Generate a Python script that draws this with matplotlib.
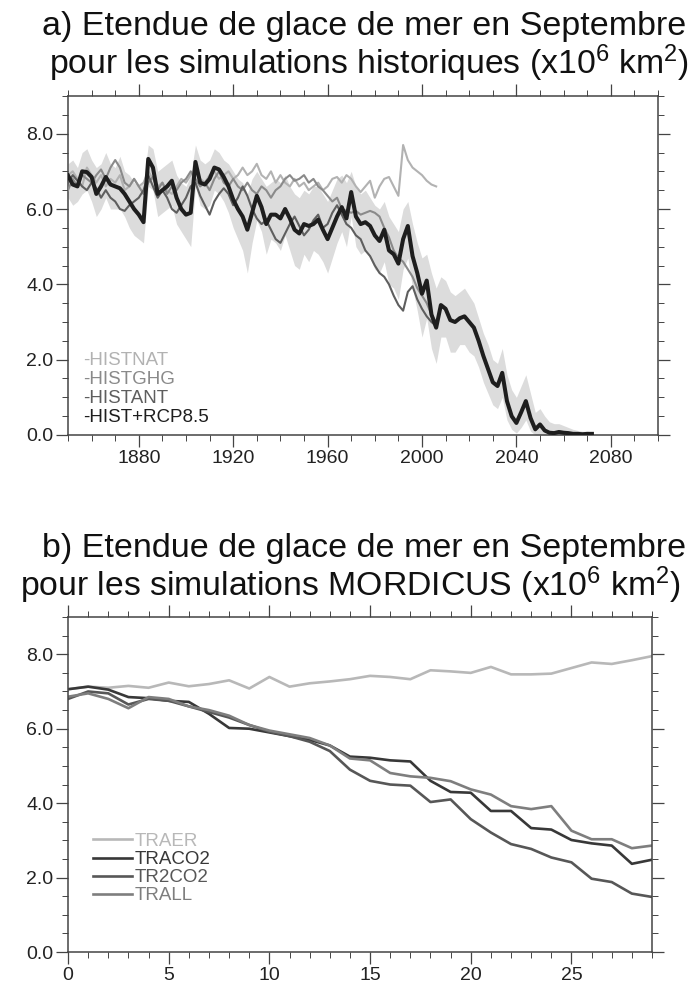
import numpy as np
import matplotlib
matplotlib.use('Agg')
from matplotlib import pyplot as plt
from matplotlib.ticker import MultipleLocator, FormatStrFormatter

plt.rcParams['font.family'] = ['Liberation Sans', 'DejaVu Sans']
plt.rcParams['mathtext.fontset'] = 'custom'
plt.rcParams['mathtext.rm'] = 'Liberation Sans'
plt.rcParams['mathtext.it'] = 'Liberation Sans:italic'

# ---- panel a : historical runs (x10^6 km2), every 2 years
years_rcp = np.arange(1850, 2074, 2)
hist_rcp85 = [
    6.89, 6.65, 6.6, 7.0, 6.98, 6.85, 6.4, 6.6, 6.85, 6.65,
    6.6, 6.55, 6.4, 6.2, 6.0, 5.85, 5.65, 7.33, 7.1, 6.4,
    6.5, 6.6, 6.75, 6.3, 6.0, 5.85, 5.9, 7.25, 6.7, 6.65,
    6.8, 7.1, 7.05, 6.85, 6.6, 6.25, 6.0, 5.8, 5.45, 5.9,
    6.35, 6.05, 5.6, 5.85, 5.85, 5.75, 6.0, 5.75, 5.45, 5.35,
    5.6, 5.55, 5.6, 5.72, 5.45, 5.2, 5.5, 5.8, 6.05, 5.75,
    6.45, 5.8, 5.6, 5.65, 5.55, 5.3, 5.15, 5.45, 4.9, 4.8,
    4.55, 5.2, 5.55, 4.75, 4.3, 3.75, 4.1, 3.2, 2.85, 3.45,
    3.35, 3.05, 3.0, 3.1, 3.15, 3.0, 2.85, 2.5, 2.1, 1.75,
    1.4, 1.3, 1.65, 0.9, 0.5, 0.32, 0.6, 0.9, 0.45, 0.15,
    0.28, 0.12, 0.06, 0.05, 0.08, 0.06, 0.05, 0.03, 0.03, 0.02,
    0.03, 0.03]
spread_hi = [
    7.2, 7.3, 7.1, 7.5, 7.6, 7.3, 7.1, 7.2, 7.5, 7.2,
    7.1, 7.4, 7.0, 6.9, 6.7, 6.6, 6.7, 7.7, 7.6, 7.0,
    7.1, 7.2, 7.3, 6.9, 6.7, 6.6, 6.9, 7.7, 7.3, 7.2,
    7.3, 7.6, 7.5, 7.3, 7.2, 7.0, 6.8, 6.7, 6.4, 6.8,
    7.0, 6.8, 6.6, 6.7, 6.8, 6.7, 6.9, 6.6, 6.4, 6.3,
    6.5, 6.4, 6.6, 6.6, 6.4, 6.2, 6.5, 6.8, 6.9, 6.7,
    7.0, 6.6, 6.4, 6.5, 6.3, 6.1, 6.0, 6.2, 5.8, 5.6,
    5.4, 6.0, 6.2, 5.6, 5.1, 4.7, 4.8, 4.3, 3.9, 4.2,
    4.1, 3.8, 3.7, 3.8, 3.9, 3.7, 3.5, 3.1, 2.7, 2.4,
    2.0, 1.9, 2.3, 1.6, 1.2, 1.0, 1.3, 1.6, 1.1, 0.6,
    0.7, 0.5, 0.35, 0.3, 0.3, 0.25, 0.2, 0.15, 0.12, 0.1,
    0.1, 0.08]
spread_lo = [
    6.3, 6.1, 6.2, 6.4, 6.5, 6.2, 5.8, 6.0, 6.3, 6.0,
    6.0, 6.0, 5.8, 5.5, 5.3, 5.2, 5.1, 6.6, 6.5, 5.8,
    5.9, 6.0, 6.1, 5.6, 5.4, 5.2, 5.0, 6.6, 6.1, 6.0,
    6.1, 6.5, 6.4, 6.2, 5.9, 5.5, 5.2, 4.9, 4.3, 5.1,
    5.7, 5.4, 4.8, 5.2, 5.1, 4.9, 5.3, 4.9, 4.5, 4.4,
    4.8, 4.6, 4.9, 4.8, 4.6, 4.3, 4.7, 5.1, 5.4, 5.0,
    5.8, 5.0, 4.8, 4.9, 4.7, 4.4, 4.3, 4.6, 4.0, 3.9,
    3.6, 4.4, 4.7, 3.9, 3.3, 2.6, 3.1, 2.3, 1.9, 2.6,
    2.6, 2.2, 2.2, 2.4, 2.4, 2.2, 2.1, 1.8, 1.4, 1.1,
    0.8, 0.7, 1.0, 0.4, 0.15, 0.05, 0.2, 0.4, 0.1, 0.0,
    0.0, 0.0, 0.0, 0.0, 0.0, 0.0, 0.0, 0.0, 0.0, 0.0,
    0.0, 0.0]

years_hist = np.arange(1850, 2008, 2)
histnat = [
    6.9, 7.0, 6.8, 6.6, 7.1, 6.9, 6.7, 6.9, 6.6, 6.8,
    6.7, 6.9, 6.5, 6.6, 6.8, 6.6, 6.7, 7.0, 6.8, 6.6,
    6.7, 6.5, 6.4, 6.6, 6.8, 6.7, 6.9, 7.1, 6.8, 6.7,
    6.9, 7.0, 6.8, 6.9, 7.0, 6.8, 6.9, 7.1, 6.9, 7.0,
    7.2, 6.9, 6.8, 7.0, 6.7, 6.9, 6.7, 6.6, 6.8, 6.6,
    6.7, 6.5, 6.6, 6.7, 6.5, 6.6, 6.8, 6.85, 6.7, 6.9,
    6.8, 6.6, 6.45, 6.6, 6.75, 6.3, 6.6, 6.8, 6.85, 6.6,
    6.35, 7.7, 7.3, 7.1, 7.0, 6.9, 6.75, 6.65, 6.6]
histghg = [
    6.5, 6.8, 6.6, 6.9, 6.8, 6.7, 6.9, 7.05, 6.8, 7.1,
    7.3, 7.1, 6.7, 6.6, 6.8, 6.6, 6.4, 6.7, 6.85, 6.5,
    6.7, 6.4, 6.6, 6.5, 6.7, 6.8, 7.0, 6.8, 6.6, 6.7,
    6.5, 6.8, 7.0, 6.7, 6.6, 6.8, 6.6, 6.5, 6.7, 6.5,
    6.4, 6.6, 6.5, 6.3, 6.5, 6.6, 6.8, 6.9, 6.75, 6.8,
    6.9, 6.7, 6.8, 6.6, 6.5, 6.35, 6.2, 6.3, 6.0, 5.95,
    5.9, 5.95, 5.85, 5.9, 5.95, 5.9, 5.8, 5.5, 5.25, 4.9,
    4.7, 4.6, 4.4, 4.2, 3.9, 3.7, 3.5, 3.2, 3.0]
histant = [
    6.7, 6.9, 6.75, 6.6, 6.5, 6.7, 6.55, 6.3, 6.5, 6.3,
    6.2, 6.0, 5.95, 6.1, 6.2, 6.3, 6.5, 6.9, 6.6, 6.3,
    6.5, 6.3, 6.0, 5.9, 6.1, 6.3, 6.6, 6.7, 6.35, 6.1,
    5.85, 6.2, 6.4, 6.55, 6.4, 6.1, 6.3, 6.6, 6.35, 6.0,
    5.75, 5.6, 5.7, 5.45, 5.2, 5.1, 5.35, 5.6, 5.8, 5.55,
    5.3, 5.45, 5.7, 5.85, 5.5, 5.6, 5.9, 6.1, 5.85, 5.6,
    5.5, 5.3, 5.2, 4.9, 4.75, 4.5, 4.3, 4.2, 4.0, 3.7,
    3.45, 3.3, 3.8, 3.95, 3.6, 3.35, 3.15, 3.0, 2.9]

hist_names = ['-HISTNAT', '-HISTGHG', '-HISTANT', '-HIST+RCP8.5']
hist_colors = ['#b2b2b2', '#8a8a8a', '#5e5e5e', '#1e1e1e']

# ---- panel b : MORDICUS runs, model years 0..29
t_mordicus = np.arange(30)
traer = [7.06, 7.13, 7.1, 7.15, 7.1, 7.24, 7.14, 7.2, 7.3, 7.08,
         7.39, 7.13, 7.22, 7.27, 7.33, 7.42, 7.39, 7.33, 7.57, 7.54,
         7.5, 7.66, 7.46, 7.46, 7.48, 7.63, 7.78, 7.74, 7.84, 7.95]
traco2 = [7.06, 7.13, 7.05, 6.85, 6.82, 6.75, 6.72, 6.4, 6.02, 6.0,
          5.9, 5.8, 5.7, 5.55, 5.25, 5.22, 5.15, 5.12, 4.6, 4.3,
          4.28, 3.79, 3.79, 3.33, 3.29, 3.01, 2.92, 2.86, 2.37, 2.48]
tr2co2 = [6.8, 7.0, 6.95, 6.65, 6.8, 6.75, 6.6, 6.45, 6.3, 6.1,
          5.92, 5.8, 5.65, 5.4, 4.9, 4.6, 4.5, 4.47, 4.03, 4.1,
          3.57, 3.21, 2.9, 2.77, 2.54, 2.41, 1.97, 1.88, 1.57, 1.48]
trall = [6.86, 6.95, 6.8, 6.55, 6.85, 6.8, 6.6, 6.5, 6.35, 6.1,
         5.95, 5.85, 5.75, 5.55, 5.2, 5.15, 4.81, 4.72, 4.68, 4.59,
         4.37, 4.23, 3.92, 3.84, 3.92, 3.26, 3.03, 3.03, 2.79, 2.86]
mord_names = ['TRAER', 'TRACO2', 'TR2CO2', 'TRALL']
mord_colors = ['#b8b8b8', '#383838', '#575757', '#7e7e7e']


def style_axes(ax, xmajor, xminor, fmt):
    ax.set_ylim(0, 9)
    ax.yaxis.set_major_locator(MultipleLocator(2))
    ax.yaxis.set_minor_locator(MultipleLocator(0.5))
    ax.yaxis.set_major_formatter(FormatStrFormatter('%.1f'))
    ax.xaxis.set_major_locator(MultipleLocator(xmajor))
    ax.xaxis.set_minor_locator(MultipleLocator(xminor))
    ax.xaxis.set_major_formatter(FormatStrFormatter(fmt))
    ax.tick_params(which='both', direction='out', top=True, right=True,
                   color='#444444', labelcolor='#222222', labelsize=14, pad=2)
    ax.tick_params(which='major', length=8.5, width=0.9)
    ax.tick_params(which='minor', length=4.3, width=0.7)
    for s in ax.spines.values():
        s.set_color('#444444')
        s.set_linewidth(1.1)


fig = plt.figure(figsize=(6.89, 9.97), dpi=100)

ax1 = fig.add_axes([0.0987, 0.5637, 0.8563, 0.340])
ax1.fill_between(years_rcp, spread_lo, spread_hi, color='#dcdcdc', lw=0, zorder=1)
ax1.plot(years_hist, histnat, color=hist_colors[0], lw=1.5, zorder=2)
ax1.plot(years_hist, histghg, color=hist_colors[1], lw=1.5, zorder=3)
ax1.plot(years_hist, histant, color=hist_colors[2], lw=1.5, zorder=3)
ax1.plot(years_rcp, hist_rcp85, color=hist_colors[3], lw=2.9, zorder=4)
ax1.set_xlim(1850, 2100)
style_axes(ax1, 40, 10, '%d')
for i, (name, col) in enumerate(zip(hist_names, hist_colors)):
    ax1.text(0.026, 0.221 - i * 0.056, name, color=col, fontsize=13.5,
             transform=ax1.transAxes, va='center', ha='left')

ax2 = fig.add_axes([0.0987, 0.0451, 0.8476, 0.336])
for vals, name, col in zip([traer, traco2, tr2co2, trall], mord_names, mord_colors):
    ax2.plot(t_mordicus, vals, color=col, lw=1.9, label=name)
ax2.set_xlim(0, 29)
style_axes(ax2, 5, 1, '%d')
leg = ax2.legend(loc='upper left', bbox_to_anchor=(0.03, 0.378), frameon=False,
                 fontsize=13.5, handlelength=2.1, handletextpad=0.1,
                 labelspacing=0.05, borderaxespad=0)
for txt, col in zip(leg.get_texts(), mord_colors):
    txt.set_color(col)

fig.text(0.528, 0.973, 'a) Etendue de glace de mer en Septembre',
         ha='center', va='center', fontsize=24.5, color='#111111')
fig.text(0.535, 0.937, r'pour les simulations historiques (x10$^{6}$ km$^{2}$)',
         ha='center', va='center', fontsize=24.3, color='#111111')
fig.text(0.528, 0.450, 'b) Etendue de glace de mer en Septembre',
         ha='center', va='center', fontsize=24.5, color='#111111')
fig.text(0.508, 0.413, r'pour les simulations MORDICUS (x10$^{6}$ km$^{2}$)',
         ha='center', va='center', fontsize=24.3, color='#111111')

fig.savefig('out.png', dpi=100)
